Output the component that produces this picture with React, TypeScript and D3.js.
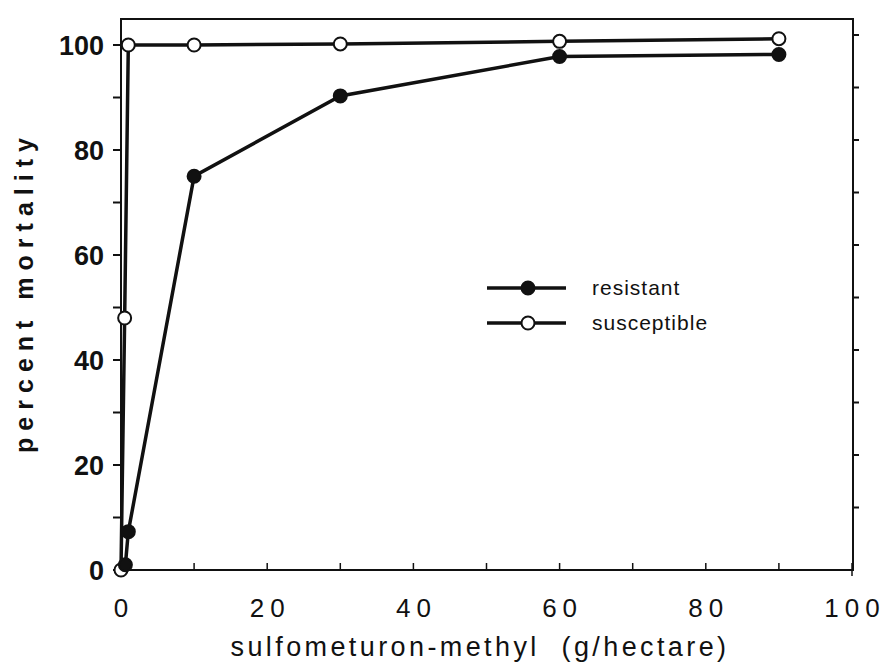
import * as d3 from "d3";
import { useEffect, useRef } from "react";

const width = 887,
  height = 664,
  marginTop = 45,
  marginRight = 35,
  marginBottom = 94,
  marginLeft = 121;

// dose in g/hectare, percent mortality
const resistantDose = [0.6, 1, 10, 30, 60, 90];
const resistantMort = [1, 7.3, 75, 90.3, 97.8, 98.2];
const susceptibleDose = [0, 0.5, 1, 10, 30, 60, 90];
const susceptibleMort = [0, 48, 100, 100, 100.2, 100.7, 101.2];

const xTicks = [0, 20, 40, 60, 80, 100];
const yTicks = [0, 20, 40, 60, 80, 100];
const minorTicks = [10, 30, 50, 70, 90];
const legendLabels = ["resistant", "susceptible"];

const font = "'Liberation Sans', Arial, Helvetica, sans-serif";

export default function App() {
  const ref = useRef<SVGSVGElement | null>(null);

  useEffect(() => {
    if (!ref.current) return;
    const svg = d3.select(ref.current);
    svg.selectAll("*").remove();

    const x = d3.scaleLinear([0, 100], [marginLeft, width - marginRight]);
    const y = d3.scaleLinear([0, 100], [height - marginBottom, marginTop]);
    const x0 = x(0),
      x1 = x(100) + 1,
      y0 = y(0),
      yTop = 19;

    // frame
    svg
      .append("path")
      .attr("d", `M${x0},${y0}V${yTop}H${x1}V${y0}H${x0}`)
      .attr("fill", "none")
      .attr("stroke", "#111")
      .attr("stroke-width", 2);

    // left ticks, outward
    const left = svg.append("g").attr("transform", `translate(${x0},0)`);
    left
      .selectAll("line")
      .data([...yTicks, ...minorTicks])
      .join("line")
      .attr("x1", -8)
      .attr("x2", 0)
      .attr("y1", (d) => y(d))
      .attr("y2", (d) => y(d))
      .attr("stroke", "#111")
      .attr("stroke-width", 2);
    left
      .selectAll("text")
      .data(yTicks)
      .join("text")
      .attr("x", -17)
      .attr("y", (d) => y(d))
      .attr("dy", "0.36em")
      .attr("text-anchor", "end")
      .attr("font-family", font)
      .attr("font-weight", "bold")
      .attr("font-size", 27)
      .attr("fill", "#111")
      .text((d) => d);

    // right ticks, outward (scan is slightly shifted)
    svg
      .append("g")
      .attr("transform", `translate(${x1},-10)`)
      .selectAll("line")
      .data(d3.range(10, 101, 10))
      .join("line")
      .attr("x1", 0)
      .attr("x2", 6)
      .attr("y1", (d) => y(d))
      .attr("y2", (d) => y(d))
      .attr("stroke", "#111")
      .attr("stroke-width", 2);

    // bottom ticks, inward
    const bottom = svg.append("g").attr("transform", `translate(0,${y0})`);
    bottom
      .selectAll("line")
      .data([...xTicks.slice(1), ...minorTicks])
      .join("line")
      .attr("x1", (d) => x(d))
      .attr("x2", (d) => x(d))
      .attr("y1", (d) => (d === 100 ? 6 : 0))
      .attr("y2", -7)
      .attr("stroke", "#111")
      .attr("stroke-width", 1.5);
    bottom
      .selectAll("text")
      .data(xTicks)
      .join("text")
      .attr("x", (d) => x(d) + 3)
      .attr("y", 47)
      .attr("text-anchor", "middle")
      .attr("font-family", font)
      .attr("font-size", 26)
      .attr("letter-spacing", 6)
      .attr("fill", "#111")
      .text((d) => d);

    // axis titles
    svg
      .append("text")
      .attr("x", 480)
      .attr("y", 656)
      .attr("text-anchor", "middle")
      .attr("font-family", font)
      .attr("font-size", 27)
      .attr("letter-spacing", 3.4)
      .style("white-space", "pre")
      .attr("fill", "#111")
      .text("sulfometuron-methyl  (g/hectare)");
    svg
      .append("text")
      .attr("transform", "translate(33,292) rotate(-90)")
      .attr("text-anchor", "middle")
      .attr("font-family", font)
      .attr("font-weight", "bold")
      .attr("font-size", 25)
      .attr("letter-spacing", 7)
      .attr("fill", "#111")
      .text("percent mortality");

    const line = d3
      .line<[number, number]>()
      .x((d) => x(d[0]))
      .y((d) => y(d[1]));

    const series = [
      { dose: susceptibleDose, mort: susceptibleMort, fill: "#fff" },
      { dose: resistantDose, mort: resistantMort, fill: "#111" },
    ];
    series.forEach((s) => {
      const pts = s.dose.map((d, i) => [d, s.mort[i]] as [number, number]);
      svg
        .append("path")
        .attr("d", line(pts))
        .attr("fill", "none")
        .attr("stroke", "#111")
        .attr("stroke-width", 3.5);
      svg
        .append("g")
        .selectAll("circle")
        .data(pts)
        .join("circle")
        .attr("cx", (d) => x(d[0]))
        .attr("cy", (d) => y(d[1]))
        .attr("r", 6.5)
        .attr("fill", s.fill)
        .attr("stroke", "#111")
        .attr("stroke-width", 2);
    });

    // legend
    const legend = svg.append("g");
    legendLabels.forEach((label, i) => {
      const ly = 288 + i * 35;
      legend
        .append("line")
        .attr("x1", 487)
        .attr("x2", 566)
        .attr("y1", ly)
        .attr("y2", ly)
        .attr("stroke", "#111")
        .attr("stroke-width", 3.5);
      legend
        .append("circle")
        .attr("cx", 528)
        .attr("cy", ly)
        .attr("r", 6.5)
        .attr("fill", i === 0 ? "#111" : "#fff")
        .attr("stroke", "#111")
        .attr("stroke-width", 2);
      legend
        .append("text")
        .attr("x", 592)
        .attr("y", ly)
        .attr("dy", "0.35em")
        .attr("font-family", font)
        .attr("font-size", 21)
        .attr("letter-spacing", 1)
        .attr("fill", "#111")
        .text(label);
    });
  }, []);

  return (
    <svg
      ref={ref}
      width={width}
      height={height}
      viewBox={`0 0 ${width} ${height}`}
      style={{ position: "absolute", left: 0, top: 0, background: "#fff" }}
    />
  );
}
